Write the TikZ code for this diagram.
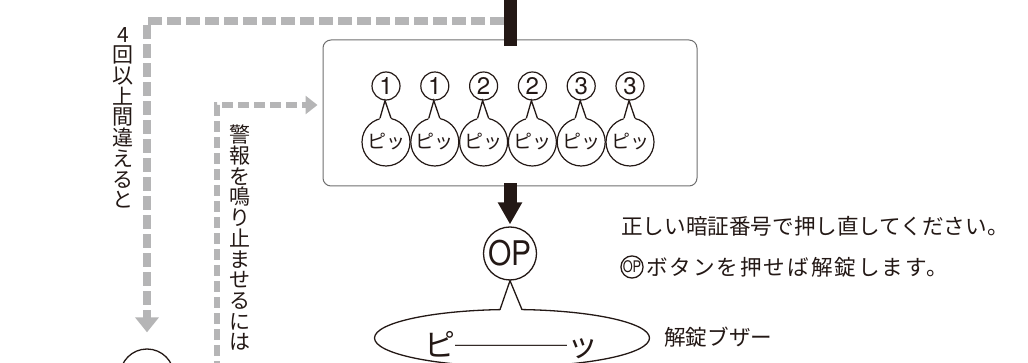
\documentclass[tikz,border=0pt]{standalone}
\usepackage{fontspec}
\usepackage{graphicx}
\usetikzlibrary{arrows.meta,shapes.geometric,calc}
\newfontfamily\jp{Noto Sans CJK JP}
\newfontfamily\hv{TeX Gyre Heros}
\definecolor{ink}{HTML}{231815}
\definecolor{dashgray}{HTML}{B5B5B6}
\definecolor{boxgray}{HTML}{6E6E6E}
\begin{document}
\begin{tikzpicture}[x=1pt,y=-1pt,
  inkline/.style={draw=ink, line width=1.3pt},
  inkbar/.style={draw=ink, line width=13pt},
  grayA/.style={draw=dashgray, line width=8pt, dash pattern=on 14pt off 5pt, -{Triangle[width=23pt,length=15pt]}},
  grayB/.style={draw=dashgray, line width=6pt, dash pattern=on 11pt off 5pt, -{Triangle[width=18pt,length=12pt]}},
  vtext/.style={font=\jp\fontsize{21}{20.7}\selectfont, align=center, inner sep=0pt, text=ink},
  jptext/.style={font=\jp\fontsize{21.6}{21.6}\selectfont, inner sep=0pt, text=ink},
  pcirc/.style={circle, draw=ink, line width=1.2pt, minimum size=48pt, inner sep=0pt, font=\jp\fontsize{19}{19}\selectfont, text=ink},
  ncirc/.style={circle, draw=ink, line width=1.2pt, minimum size=28pt, inner sep=0pt, font=\hv\fontsize{24}{24}\selectfont, text=ink}]
\useasboundingbox (0,0) rectangle (1028,363);
\begin{scope}
\clip (0,0) rectangle (1028,363);
% main box
\node[draw=boxgray, line width=1pt, rounded corners=8pt, minimum width=374pt, minimum height=146pt, inner sep=0pt] (box) at (510,113) {};
% top bar
\coordinate (barTop) at (510,-2);
\draw[inkbar] (barTop) -- ([yshift=-7pt]box.north);
% beeps
\foreach \i/\x/\d in {1/386/1,2/434.8/1,3/483.6/2,4/532.4/2,5/581.2/3,6/630/3}{
  \node[pcirc] (p\i) at (\x,142) {ピッ};
  \node[ncirc] (n\i) at (\x,86) {\d};
  \fill[white] ([xshift=-6.6pt,yshift=-3pt]p\i.north) -- ([xshift=-1pt]n\i.south) -- ([xshift=5.6pt,yshift=-3pt]p\i.north) -- cycle;
  \draw[inkline] ([xshift=-6pt,yshift=-0.8pt]p\i.north) -- ([xshift=-1pt]n\i.south) -- ([xshift=5pt,yshift=-0.8pt]p\i.north);
}
% OP and buzzer
\node[circle, draw=ink, line width=1.3pt, minimum size=53pt, inner sep=0pt, font=\hv\fontsize{34}{34}\selectfont, text=ink] (op) at (510,253.5) {\scalebox{0.88}[1]{OP}};
\draw[inkbar, -{Triangle[width=23pt,length=22pt]}] ([yshift=3pt]box.south) -- ([yshift=2pt]op.north);
\node[ellipse, draw=ink, line width=1.3pt, minimum width=275pt, minimum height=57pt, inner sep=0pt] (buzz) at (512,338) {};
\fill[white] (499.5,313) -- (op.south) -- (522.5,313) -- cycle;
\draw[inkline] (500,309.6) -- (op.south) -- (522,309.6);
\node[font=\jp\fontsize{31}{31}\selectfont, text=ink, inner sep=0pt] (buzztext) at (511,345) {ピ{\fontsize{28}{28}\selectfont ────}ッ};
\node[jptext, anchor=west] (buzlabel) at (664,337) {解錠ブザー};
% right messages
\node[jptext, anchor=west] (msg1) at (621,226) {正しい暗証番号で押し直してください。};
\node[circle, draw=ink, line width=1.3pt, minimum size=21pt, inner sep=0pt, font=\hv\fontsize{16}{16}\selectfont, text=ink] (opsmall) at (632,267) {\scalebox{0.8}[1]{OP}};
\node[jptext, anchor=west] (msg2) at (646,267) {\addfontfeature{LetterSpace=9}ボタンを押せば解錠します。};
% left alarm circle
\node[circle, draw=ink, line width=1.3pt, minimum size=54pt, inner sep=0pt] (alarm) at (147,376) {};
% dashed paths
\coordinate (dashStart) at (503.5,21);
\draw[grayA, shorten >=16pt] (dashStart) -| (alarm.north);
\coordinate (bStart) at (217,372);
\draw[grayB, shorten >=5pt] (bStart) |- ([yshift=8pt]box.west);
% vertical texts
\node[vtext, anchor=north] (t4) at (123,27) {4\\回\\以\\上\\間\\違\\え\\る\\と};
\node[vtext, anchor=north] (talarm) at (240,125) {警\\報\\を\\鳴\\り\\止\\ま\\せ\\る\\に\\は};
\end{scope}
\end{tikzpicture}
\end{document}
